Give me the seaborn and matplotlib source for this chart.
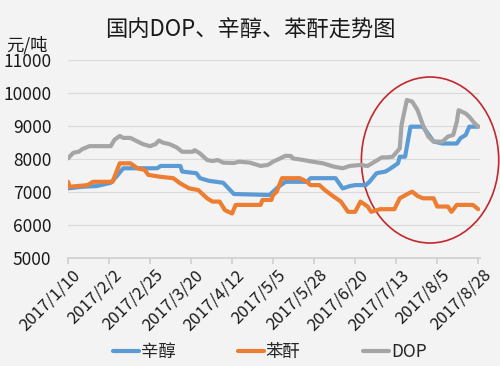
import pandas as pd
import matplotlib.pyplot as plt
import matplotlib.dates as mdates
import matplotlib.transforms as mtransforms
from matplotlib.patches import Ellipse
import seaborn as sns

# 辛醇 (octanol)
octanol_dates = ["2017-01-10", "2017-01-18", "2017-01-26", "2017-02-03", "2017-02-06", "2017-02-10",
                 "2017-03-01", "2017-03-03", "2017-03-14", "2017-03-15", "2017-03-23", "2017-03-25",
                 "2017-03-30", "2017-04-07", "2017-04-10", "2017-04-13", "2017-05-03", "2017-05-05",
                 "2017-05-08", "2017-05-12", "2017-05-24", "2017-05-26", "2017-06-09", "2017-06-13",
                 "2017-06-17", "2017-06-20", "2017-06-26", "2017-06-28", "2017-07-02", "2017-07-07",
                 "2017-07-10", "2017-07-14", "2017-07-15", "2017-07-18", "2017-07-21", "2017-07-28",
                 "2017-08-01", "2017-08-03", "2017-08-08", "2017-08-16", "2017-08-18", "2017-08-21",
                 "2017-08-23", "2017-08-28"]
octanol_vals = [7110, 7160, 7180, 7280, 7460, 7720,
                7720, 7790, 7790, 7620, 7570, 7420,
                7340, 7280, 7110, 6940, 6910, 7010,
                7160, 7310, 7310, 7420, 7420, 7110,
                7180, 7210, 7210, 7310, 7570, 7620,
                7720, 7870, 8070, 8070, 8980, 8980,
                8680, 8530, 8470, 8470, 8630, 8730,
                8980, 8980]

# 苯酐 (phthalic anhydride)
pa_dates = ["2017-01-10", "2017-01-11", "2017-01-21", "2017-01-24", "2017-02-04", "2017-02-08",
            "2017-02-14", "2017-02-18", "2017-02-22", "2017-02-24", "2017-03-03", "2017-03-10",
            "2017-03-14", "2017-03-19", "2017-03-24", "2017-03-29", "2017-04-01", "2017-04-05",
            "2017-04-08", "2017-04-12", "2017-04-14", "2017-04-28", "2017-04-29", "2017-05-04",
            "2017-05-05", "2017-05-07", "2017-05-10", "2017-05-20", "2017-05-24", "2017-05-26",
            "2017-05-31", "2017-06-03", "2017-06-08", "2017-06-12", "2017-06-16", "2017-06-20",
            "2017-06-23", "2017-06-27", "2017-06-29", "2017-07-04", "2017-07-12", "2017-07-15",
            "2017-07-20", "2017-07-22", "2017-07-25", "2017-07-28", "2017-08-03", "2017-08-05",
            "2017-08-11", "2017-08-13", "2017-08-16", "2017-08-25", "2017-08-28"]
pa_vals = [7310, 7160, 7210, 7310, 7310, 7870,
           7870, 7720, 7670, 7520, 7460, 7420,
           7260, 7110, 7060, 6810, 6710, 6710,
           6450, 6350, 6610, 6610, 6760, 6760,
           6910, 7010, 7420, 7420, 7310, 7210,
           7210, 7060, 6860, 6710, 6400, 6400,
           6710, 6560, 6400, 6480, 6480, 6810,
           6960, 7010, 6880, 6810, 6810, 6560,
           6560, 6400, 6610, 6610, 6480]

# DOP
dop_dates = ["2017-01-10", "2017-01-13", "2017-01-16", "2017-01-18", "2017-01-22", "2017-02-03",
             "2017-02-05", "2017-02-08", "2017-02-10", "2017-02-14", "2017-02-18", "2017-02-21",
             "2017-02-25", "2017-02-28", "2017-03-02", "2017-03-04", "2017-03-08", "2017-03-12",
             "2017-03-15", "2017-03-21", "2017-03-22", "2017-03-25", "2017-03-29", "2017-04-01",
             "2017-04-04", "2017-04-07", "2017-04-13", "2017-04-16", "2017-04-22", "2017-04-28",
             "2017-05-02", "2017-05-05", "2017-05-09", "2017-05-12", "2017-05-15", "2017-05-16",
             "2017-05-22", "2017-05-27", "2017-06-02", "2017-06-08", "2017-06-13", "2017-06-17",
             "2017-06-23", "2017-06-27", "2017-07-01", "2017-07-05", "2017-07-08", "2017-07-11",
             "2017-07-15", "2017-07-16", "2017-07-19", "2017-07-22", "2017-07-25", "2017-07-28",
             "2017-07-31", "2017-08-03", "2017-08-08", "2017-08-11", "2017-08-14", "2017-08-16",
             "2017-08-17", "2017-08-21", "2017-08-23", "2017-08-26", "2017-08-28"]
dop_vals = [8020, 8190, 8220, 8300, 8390, 8390,
            8580, 8700, 8640, 8640, 8530, 8450,
            8390, 8450, 8560, 8500, 8450, 8350,
            8220, 8220, 8270, 8170, 7970, 7940,
            7970, 7890, 7880, 7920, 7890, 7790,
            7820, 7920, 8020, 8100, 8090, 8020,
            7970, 7920, 7870, 7770, 7720, 7790,
            7820, 7790, 7920, 8050, 8050, 8070,
            8320, 9030, 9790, 9740, 9480, 9030,
            8680, 8530, 8530, 8680, 8730, 9130,
            9480, 9380, 9280, 9080, 8980]

names = ["辛醇", "苯酐", "DOP"]
colors = ["#5B9BD5", "#ED7D31", "#A5A5A5"]
tick_labels = ["2017/1/10", "2017/2/2", "2017/2/25", "2017/3/20", "2017/4/12", "2017/5/5",
               "2017/5/28", "2017/6/20", "2017/7/13", "2017/8/5", "2017/8/28"]

df = pd.concat([
    pd.DataFrame({"date": pd.to_datetime(octanol_dates), "price": octanol_vals, "product": names[0]}),
    pd.DataFrame({"date": pd.to_datetime(pa_dates), "price": pa_vals, "product": names[1]}),
    pd.DataFrame({"date": pd.to_datetime(dop_dates), "price": dop_vals, "product": names[2]}),
])

sns.set_theme(style="whitegrid")
plt.rcParams['font.family'] = ['Noto Sans CJK SC', 'DejaVu Sans']
bg = "#F3F3F3"

fig, ax = plt.subplots(figsize=(5, 3.66), dpi=100)
fig.patch.set_facecolor(bg)
ax.set_facecolor(bg)
fig.subplots_adjust(left=0.136, right=0.96, top=0.836, bottom=0.295)

sns.lineplot(data=df, x="date", y="price", hue="product", hue_order=names,
             palette=dict(zip(names, colors)), linewidth=3, ax=ax)

ax.set_ylim(5000, 11000)
ax.set_yticks(range(5000, 11001, 1000))
ticks = pd.to_datetime([pd.Timestamp(t.replace("/", "-")) for t in tick_labels])
ax.set_xticks(ticks)
ax.set_xticklabels(tick_labels, rotation=45, ha="right", rotation_mode="anchor")
ax.set_xlim(ticks[0], ticks[-1] + pd.Timedelta(days=1))
ax.set_xlabel("")
ax.set_ylabel("")
ax.grid(axis="x", visible=False)
ax.grid(axis="y", color="#DADADA", linewidth=0.8)
for s in ["top", "right", "left"]:
    ax.spines[s].set_visible(False)
ax.spines["bottom"].set_color("#D0D0D0")
ax.tick_params(axis="y", labelsize=12.5, pad=12, colors="#1a1a1a", length=0)
ax.tick_params(axis="x", labelsize=12, pad=2, colors="#1a1a1a", length=4,
               color="#D0D0D0", bottom=True)
# nudge the rotated date labels a little to the right, as in the original
shift = mtransforms.ScaledTranslation(4 / 100, 0, fig.dpi_scale_trans)
for lbl in ax.get_xticklabels():
    lbl.set_transform(lbl.get_transform() + shift)

sns.move_legend(ax, "center", bbox_to_anchor=(0.49, -0.475), ncol=3, frameon=False,
                title=None, fontsize=12.5, handlelength=1.5, handletextpad=0.1,
                columnspacing=3.6)

fig.text(0.5, 0.918, "国内DOP、辛醇、苯酐走势图", ha="center", va="center", fontsize=16,
         color="#1a1a1a")
fig.text(0.054, 0.877, "元/吨", ha="center", va="center", fontsize=12.5, color="#1a1a1a")

# red circle highlighting the recent surge
center = mdates.date2num(pd.Timestamp("2017-08-01"))
ax.add_patch(Ellipse((center, 7970), width=77, height=5030, fill=False,
                     edgecolor="#C0282E", linewidth=1.2, clip_on=False))

fig.savefig("out.png", dpi=100, facecolor=bg)
